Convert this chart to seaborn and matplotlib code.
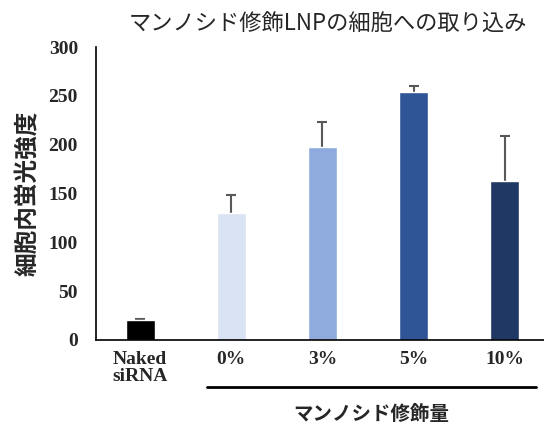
import matplotlib
matplotlib.use("Agg")
import matplotlib.pyplot as plt
import seaborn as sns
import pandas as pd

groups = ["Naked\nsiRNA", "0%", "3%", "5%", "10%"]
values = [20.5, 130, 198, 254, 163]
errors = [1.5, 18, 25, 6, 46]
colors = ["#000000", "#DAE3F3", "#8FAADC", "#2F5597", "#203864"]

df = pd.DataFrame({"group": groups, "value": values})

sns.set_style("white")
jp = ["Noto Sans CJK JP", "DejaVu Sans"]
serif = ["Liberation Serif", "DejaVu Serif"]

fig = plt.figure(figsize=(5.44, 4.25), dpi=100)
ax = fig.add_axes([96 / 544, 0.2, 448 / 544, 293 / 425])

sns.barplot(data=df, x="group", y="value", hue="group", palette=colors,
            legend=False, width=0.32, ax=ax, errorbar=None, saturation=1, zorder=3)
# symmetric bars drawn behind the columns so only the upper half shows
ax.errorbar(range(len(values)), values, yerr=errors, fmt="none", ecolor="#595959",
            elinewidth=1.5, capsize=3.5, capthick=1.5, zorder=1)

ax.set_xlim(-0.484, 4.43)
ax.set_ylim(0, 300)
ax.set_yticks(range(0, 301, 50))
for s in ["top", "right"]:
    ax.spines[s].set_visible(False)
for s in ["left", "bottom"]:
    ax.spines[s].set_color("black")
    ax.spines[s].set_linewidth(1.2)
    ax.spines[s].set_zorder(4)

ax.tick_params(axis="y", direction="out", length=5, width=1, color="black", pad=8)
ax.tick_params(axis="x", length=0, pad=8)
for lab in ax.get_yticklabels():
    lab.set_fontfamily(serif)
    lab.set_fontweight("bold")
    lab.set_fontsize(14)
for lab in ax.get_xticklabels():
    lab.set_fontfamily(serif)
    lab.set_fontweight("bold")
    lab.set_fontsize(14)
    lab.set_linespacing(1.0)
    lab.set_verticalalignment("top")

ax.set_xlabel("")
ax.set_ylabel("細胞内蛍光強度", fontfamily=jp, fontweight="bold", fontsize=17, labelpad=6)
ax.set_title("マンノシド修飾LNPの細胞への取り込み", fontfamily=jp, fontsize=16, pad=12, x=0.517)

trans = ax.get_xaxis_transform()
ax.plot([0.736, 4.34], [-0.16, -0.16], color="black", lw=2, transform=trans, clip_on=False)
ax.text(2.54, -0.255, "マンノシド修飾量", transform=trans, ha="center", va="center",
        fontfamily=jp, fontweight="bold", fontsize=14)

fig.savefig("out.png", dpi=100)
